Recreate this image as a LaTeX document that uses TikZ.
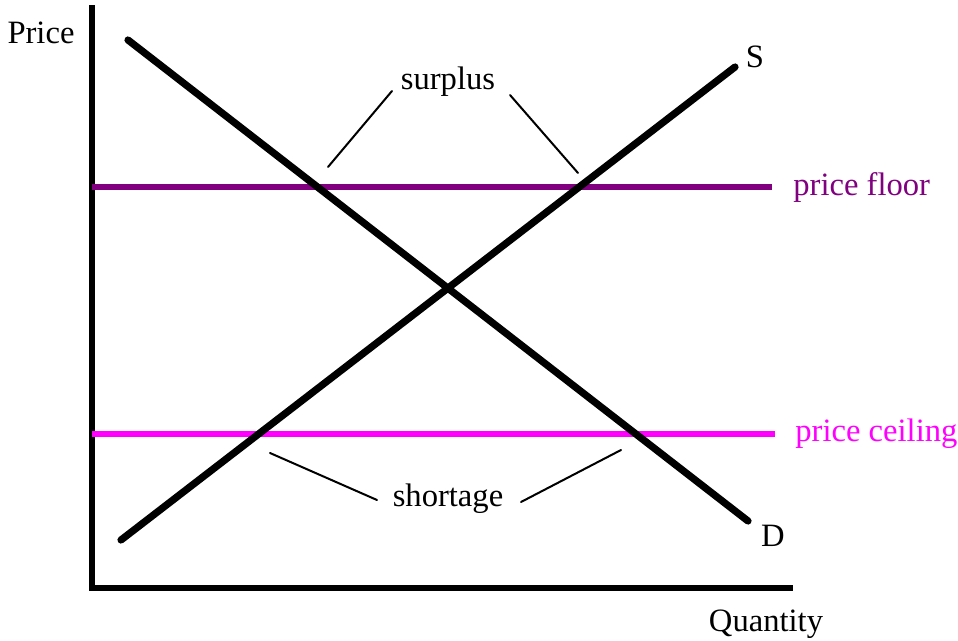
\documentclass[tikz,border=0pt]{standalone}
\usepackage{fontspec}
\setmainfont{Liberation Serif}
\usepackage{xcolor}
\usetikzlibrary{positioning}
\definecolor{floorpurple}{RGB}{128,0,128}
\definecolor{ceilmagenta}{RGB}{255,0,255}
\tikzset{
  axisline/.style={line width=3pt,line cap=rect},
  curve/.style={line width=3.6pt,line cap=round},
  floorline/.style={line width=3pt,draw=floorpurple},
  ceilline/.style={line width=3pt,draw=ceilmagenta},
  leader/.style={line width=1pt,line cap=round},
  lbl/.style={font=\fontsize{16.3}{18}\selectfont,inner sep=1pt}
}
\begin{document}
\begin{tikzpicture}[x=0.5pt,y=-0.5pt]
  \useasboundingbox (0,0) rectangle (958,641);
  % axes
  \coordinate (top) at (92,8);
  \coordinate (origin) at (92,588);
  \coordinate (right) at (790,588);
  \draw[axisline] (top) -- (origin) -- (right);
  \node[lbl] (price) at (41,33) {Price};
  \node[lbl] (qty) at (766,624) {Quantity};
  % price floor and ceiling
  \coordinate (f0) at (92,187);
  \coordinate (f1) at (772,187);
  \coordinate (c0) at (92,434);
  \coordinate (c1) at (775,434);
  \draw[floorline] (f0) -- (f1);
  \draw[ceilline] (c0) -- (c1);
  \node[lbl,text=floorpurple,right=9.5pt of f1] (floor) {price floor};
  \node[lbl,text=ceilmagenta,right=9pt of c1] (ceiling) {price ceiling};
  % demand and supply
  \coordinate (d0) at (128,40);
  \coordinate (d1) at (748,521);
  \coordinate (s0) at (121,540);
  \coordinate (s1) at (735,67);
  \draw[curve] (d0) -- (d1);
  \draw[curve] (s0) -- (s1);
  \node[lbl] (S) at (755,57) {S};
  \node[lbl] (D) at (773,536) {D};
  % surplus and shortage
  \node[lbl] (surplus) at (448,82) {surplus};
  \node[lbl] (shortage) at (448,499) {shortage};
  \draw[leader] (392,91) -- (328,167);
  \draw[leader] (510,95) -- (578,173);
  \draw[leader] (377,500) -- (270,453);
  \draw[leader] (521,502) -- (621,450);
\end{tikzpicture}
\end{document}
